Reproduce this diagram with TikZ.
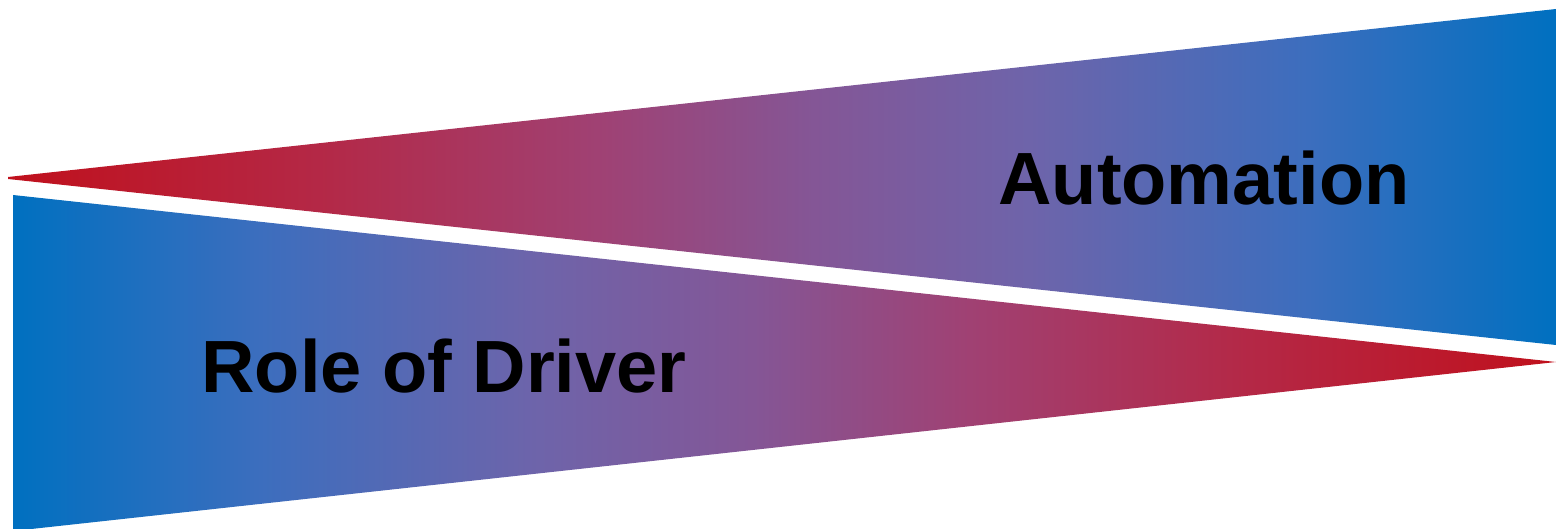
\documentclass[tikz,border=0pt]{standalone}
\usepackage{fontspec}
\setmainfont{Liberation Sans}
\definecolor{wedgered}{RGB}{192,16,28}
\definecolor{wedgeblue}{RGB}{0,112,192}
\pgfdeclarehorizontalshading{redtoblue}{100bp}{%
  rgb(0bp)=(0.753,0.063,0.110);
  rgb(25bp)=(0.753,0.063,0.110);
  rgb(35bp)=(0.706,0.157,0.275);
  rgb(44bp)=(0.627,0.255,0.451);
  rgb(51bp)=(0.518,0.337,0.588);
  rgb(58bp)=(0.431,0.392,0.667);
  rgb(67bp)=(0.235,0.431,0.745);
  rgb(75bp)=(0,0.439,0.753);
  rgb(100bp)=(0,0.439,0.753)}
\begin{document}
\begin{tikzpicture}[
  x=1pt, y=-1pt,
  wedge/.style = {draw=none, shading=redtoblue},
  label/.style = {font=\bfseries\fontsize{74}{80}\selectfont,
    text=black, inner sep=0pt, anchor=base}]
  \useasboundingbox (0,0) rectangle (1556,529);
  % upper wedge, opening to the right
  \path[wedge] (8,177) -- (1556,9) -- (1556,345) -- (8,179) -- cycle;
  % lower wedge, opening to the left
  \path[wedge, shading angle=180] (13,195) -- (1556,362) -- (13,531) -- cycle;
  \node[label] (automation) at (1204,205) {Automation};
  \node[label] (driver) at (444,392) {Role of Driver};
\end{tikzpicture}
\end{document}
